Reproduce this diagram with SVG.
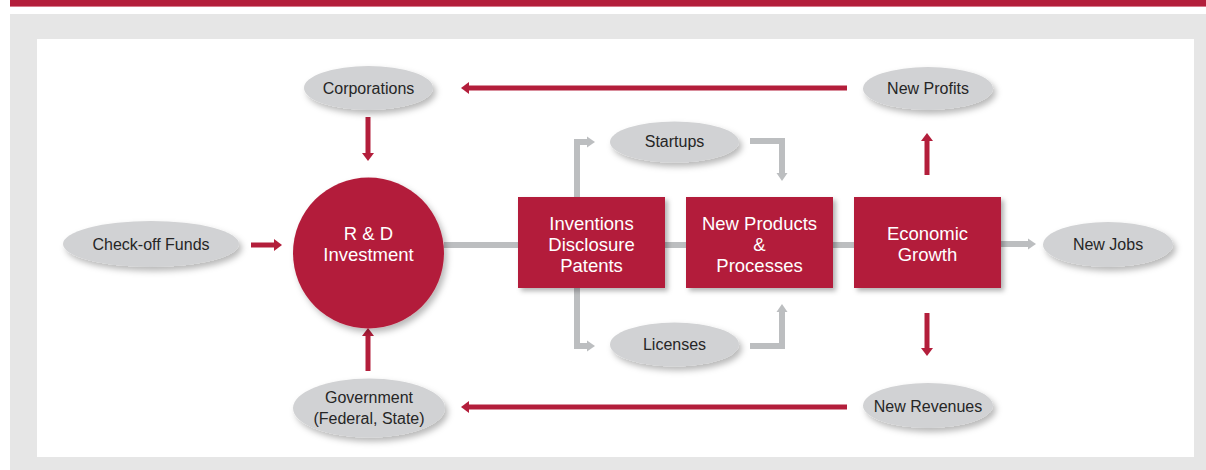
<svg xmlns="http://www.w3.org/2000/svg" width="1206" height="470" viewBox="0 0 1206 470">
<style>
.red{fill:#b31e3b}
.oval{fill:#d1d2d4;filter:url(#sh)}
.box{fill:#b31e3b;filter:url(#sh2)}
.lt{font-family:"Liberation Sans",Arial,sans-serif;font-size:16px;fill:#262626;text-anchor:middle}
.wt{font-family:"Liberation Sans",Arial,sans-serif;font-size:18.5px;fill:#ffffff;text-anchor:middle}
.ra{stroke:#b31e3b;stroke-width:5;fill:none;marker-end:url(#rh)}
.ga{stroke:#bcbec0;stroke-width:6;fill:none}
.gm{marker-end:url(#gh)}
</style>
<defs>
<filter id="sh" x="-20%" y="-30%" width="150%" height="180%">
<feDropShadow dx="3" dy="4" stdDeviation="3" flood-color="#000" flood-opacity="0.28"/>
</filter>
<filter id="sh2" x="-10%" y="-10%" width="130%" height="130%">
<feDropShadow dx="3" dy="3" stdDeviation="2.5" flood-color="#000" flood-opacity="0.3"/>
</filter>
<marker id="rh" markerUnits="userSpaceOnUse" markerWidth="12" markerHeight="12" refX="2" refY="6" orient="auto">
<path d="M0,0 L8,6 L0,12 z" fill="#b31e3b"/>
</marker>
<marker id="gh" markerUnits="userSpaceOnUse" markerWidth="12" markerHeight="12" refX="2" refY="6" orient="auto">
<path d="M0,0.5 L8,6 L0,11.5 z" fill="#bcbec0"/>
</marker>
</defs>
<rect x="10" y="0" width="1196" height="6" fill="#b31e3b"/>
<rect x="10" y="6" width="1196" height="1" fill="#d8798b"/>
<rect x="10" y="14" width="1196" height="456" fill="#e6e6e6"/>
<rect x="37" y="39" width="1157" height="418" fill="#ffffff"/>

<g id="connectors">
<line class="ga" x1="444" y1="245" x2="518" y2="245"/>
<line class="ga" x1="665" y1="245" x2="686" y2="245"/>
<line class="ga" x1="833" y1="245" x2="854" y2="245"/>
<line class="ga gm" x1="1001" y1="244" x2="1030" y2="244"/>
<polyline class="ga gm" points="577,197 577,142 589,142"/>
<polyline class="ga gm" points="750,141 782,141 782,175"/>
<polyline class="ga gm" points="577,288 577,346 589,346"/>
<polyline class="ga gm" points="750,346 782,346 782,310"/>
<line class="ra" x1="368" y1="117" x2="368" y2="155"/>
<line class="ra" x1="251" y1="245" x2="276" y2="245"/>
<line class="ra" x1="368" y1="371" x2="368" y2="334"/>
<line class="ra" x1="847" y1="88" x2="467" y2="88"/>
<line class="ra" x1="847" y1="407" x2="467" y2="407"/>
<line class="ra" x1="927" y1="175" x2="927" y2="139"/>
<line class="ra" x1="927" y1="313" x2="927" y2="350"/>
</g>

<g id="corporations"><ellipse class="oval" cx="368.5" cy="88" rx="64.5" ry="22"/><text class="lt" x="368.5" y="93.5">Corporations</text></g>
<g id="checkoff"><ellipse class="oval" cx="151" cy="244" rx="88" ry="23"/><text class="lt" x="151" y="250">Check-off Funds</text></g>
<g id="rd"><circle cx="368.5" cy="253" r="75.5" class="red" filter="url(#sh)"/><text class="wt" x="368.5" y="240">R &amp; D</text><text class="wt" x="368.5" y="261">Investment</text></g>
<g id="government"><ellipse class="oval" cx="369" cy="408" rx="76" ry="29.5"/><text class="lt" x="369" y="403">Government</text><text class="lt" x="369" y="424">(Federal, State)</text></g>
<g id="inventions"><rect class="box" x="518" y="197" width="147" height="91"/><text class="wt" x="591.5" y="229.5">Inventions</text><text class="wt" x="591.5" y="250.5">Disclosure</text><text class="wt" x="591.5" y="271.5">Patents</text></g>
<g id="products"><rect class="box" x="686" y="197" width="147" height="91"/><text class="wt" x="759.5" y="229.5">New Products</text><text class="wt" x="759.5" y="250.5">&amp;</text><text class="wt" x="759.5" y="271.5">Processes</text></g>
<g id="growth"><rect class="box" x="854" y="197" width="147" height="91"/><text class="wt" x="927.5" y="240">Economic</text><text class="wt" x="927.5" y="261">Growth</text></g>
<g id="startups"><ellipse class="oval" cx="674.5" cy="142" rx="64.5" ry="20.5"/><text class="lt" x="674.5" y="146.5">Startups</text></g>
<g id="licenses"><ellipse class="oval" cx="674.5" cy="344.5" rx="64.5" ry="22"/><text class="lt" x="674.5" y="350">Licenses</text></g>
<g id="newprofits"><ellipse class="oval" cx="928" cy="88.5" rx="65" ry="21.5"/><text class="lt" x="928" y="94">New Profits</text></g>
<g id="newjobs"><ellipse class="oval" cx="1108" cy="244.5" rx="65" ry="22.5"/><text class="lt" x="1108" y="250">New Jobs</text></g>
<g id="newrevenues"><ellipse class="oval" cx="928" cy="405.5" rx="65" ry="22.5"/><text class="lt" x="928" y="412">New Revenues</text></g>
</svg>
